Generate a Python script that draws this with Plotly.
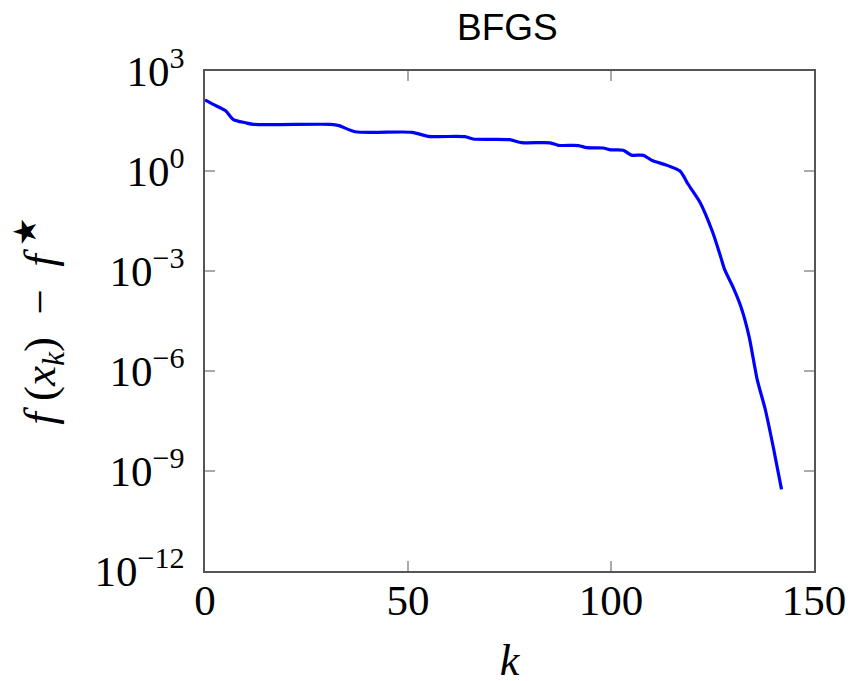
import plotly.graph_objects as go

# iteration index k
k_values = [0, 2, 5, 7, 10, 12, 31, 33, 37, 51, 55, 64, 66, 75, 78, 85, 87, 92, 94, 98,
            100, 103, 105, 108, 110, 114, 117, 119, 122, 125, 127, 128, 130, 132, 134,
            136, 138, 140, 142]
# f(x_k) - f*
gap_values = [135, 100, 65, 35, 28, 25, 25, 23, 15, 14.5, 11, 10.7, 9.1, 8.7, 7.1, 7.0,
              5.9, 5.8, 5.0, 4.9, 4.3, 4.2, 3.0, 2.95, 2.1, 1.45, 1.0, 0.4, 0.11, 0.015,
              2.7e-3, 1.1e-3, 3.4e-4, 8.5e-5, 1.1e-5, 5.6e-7, 7e-8, 5e-9, 2.8e-10]

y_tickvals = [1e3, 1e0, 1e-3, 1e-6, 1e-9, 1e-12]
y_ticktext = ["10<sup>3</sup>", "10<sup>0</sup>", "10<sup>−3</sup>", "10<sup>−6</sup>",
              "10<sup>−9</sup>", "10<sup>−12</sup>"]
x_tickvals = [0, 50, 100, 150]
x_ticktext = ["0", "50", "100", "150"]

serif = "Liberation Serif, Times New Roman, serif"

fig = go.Figure()
fig.add_trace(go.Scatter(
    x=k_values, y=gap_values, mode="lines",
    line=dict(color="#0000ff", width=3.2, shape="spline", smoothing=0.7),
    showlegend=False, hoverinfo="skip",
))

fig.update_layout(
    width=867, height=681,
    paper_bgcolor="white", plot_bgcolor="white",
    margin=dict(l=197, r=61, t=63, b=118),
    title=dict(text="BFGS", x=0.576, xanchor="center", y=0.972, yanchor="middle",
               font=dict(family="Liberation Sans, Arial, sans-serif", size=37, color="black")),
    font=dict(family=serif, color="black"),
)

axis_common = dict(
    showgrid=False, zeroline=False, showline=True, linecolor="#555555", linewidth=1.5,
    mirror="ticks", ticks="inside", ticklen=10, tickcolor="#aaaaaa", tickwidth=1.5,
    tickfont=dict(family=serif, size=43, color="black"), automargin=False,
)

fig.update_xaxes(
    range=[0, 150], tickmode="array", tickvals=x_tickvals, ticktext=x_ticktext,
    ticklabelstandoff=-9,
    title=dict(text="<i>k</i>", font=dict(family=serif, size=44), standoff=21),
    **axis_common,
)
fig.update_yaxes(
    type="log", range=[-12, 3], tickmode="array", tickvals=y_tickvals, ticktext=y_ticktext,
    ticklabelstandoff=10,
    title=dict(text="<i>f</i> (<i>x</i><sub><i>k</i></sub>)  −  <i>f</i><sup> ★</sup>",
               font=dict(family=serif, size=45), standoff=30),
    **axis_common,
)

fig.write_html("out.html")
